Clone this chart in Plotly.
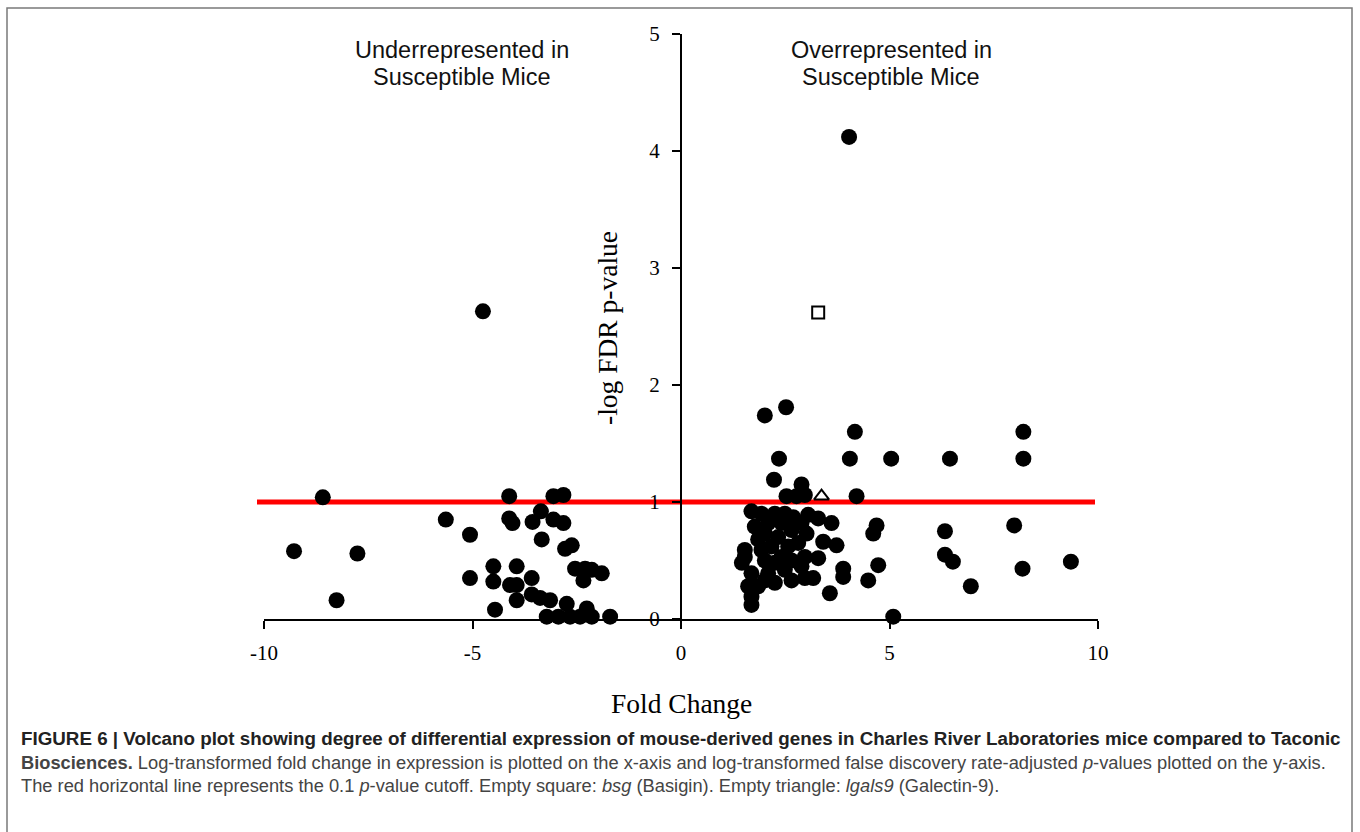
import plotly.graph_objects as go

# ---------------- data ----------------
genes_x = [
    # left (underrepresented)
    -4.75, -8.59, -9.28, -7.76, -8.26, -5.64, -5.06, -5.06, -4.50, -4.50, -4.46,
    -4.12, -4.12, -4.04, -3.56, -3.36, -3.06, -2.82, -3.06, -2.82, -3.34, -2.78, -2.62,
    -3.94, -4.10, -3.94, -3.58, -2.54, -2.30, -2.14, -1.90, -2.34, -3.94, -3.58, -3.38,
    -3.14, -2.74, -2.26, -3.22, -2.94, -2.66, -2.42, -2.14, -1.70,
    # right (overrepresented)
    4.03, 2.01, 2.52, 4.17, 2.35, 4.05, 5.04, 2.23, 2.89, 2.53, 2.77, 2.97, 4.21,
    4.69, 4.61, 4.73, 4.49, 3.89, 3.89, 3.57, 5.09, 3.05, 3.29, 3.61, 3.41, 3.73,
    3.29, 2.97, 3.17, 3.01,
    1.69, 1.93, 2.25, 2.49, 2.69, 1.77, 2.09, 1.53, 1.85, 2.33, 2.65, 2.81, 2.97,
    2.41, 2.01, 1.46, 1.69, 2.09, 2.49, 2.89, 1.85, 2.25, 2.65, 1.69, 1.69,
    2.17, 2.57, 1.93, 2.25, 1.53, 2.65, 2.01, 2.41, 2.89, 1.61, 2.01,
    6.45, 8.21, 8.21, 6.33, 6.33, 6.52, 6.95, 7.99, 8.19, 9.35,
]
genes_y = [
    2.63, 1.04, 0.58, 0.56, 0.16, 0.85, 0.72, 0.35, 0.45, 0.32, 0.08,
    1.05, 0.86, 0.82, 0.83, 0.92, 0.85, 0.82, 1.05, 1.06, 0.68, 0.60, 0.63,
    0.45, 0.29, 0.29, 0.35, 0.43, 0.43, 0.42, 0.39, 0.33, 0.16, 0.21, 0.18,
    0.16, 0.13, 0.09, 0.02, 0.02, 0.02, 0.02, 0.02, 0.02,
    4.12, 1.74, 1.81, 1.60, 1.37, 1.37, 1.37, 1.19, 1.15, 1.05, 1.05, 1.06, 1.05,
    0.80, 0.73, 0.46, 0.33, 0.43, 0.36, 0.22, 0.02, 0.89, 0.86, 0.82, 0.66, 0.63,
    0.52, 0.35, 0.35, 0.73,
    0.92, 0.90, 0.90, 0.90, 0.87, 0.79, 0.82, 0.59, 0.68, 0.70, 0.76, 0.65, 0.53,
    0.53, 0.50, 0.48, 0.39, 0.39, 0.42, 0.45, 0.28, 0.31, 0.33, 0.19, 0.12,
    0.62, 0.62, 0.59, 0.48, 0.53, 0.50, 0.73, 0.82, 0.82, 0.28, 0.33,
    1.37, 1.60, 1.37, 0.75, 0.55, 0.49, 0.28, 0.80, 0.43, 0.49,
]
bsg_x, bsg_y = [3.29], [2.62]        # empty square (Basigin)
lgals9_x, lgals9_y = [3.37], [1.05]  # empty triangle (Galectin-9)
cutoff_y = 1.0                        # -log10(0.1)

x_ticks = [-10, -5, 0, 5, 10]
x_tick_text = ["-10", "-5", "0", "5", "10"]
y_ticks = [0, 1, 2, 3, 4, 5]

# ---------------- layout helpers ----------------
W, H = 1360, 832
L, R, T, B = 264, 1098, 34, 619  # plot area in pixels


def px(xp):
    return (xp - L) / (R - L)


def py(yp):
    return (B - yp) / (B - T)


fig = go.Figure()
fig.add_trace(go.Scatter(
    x=genes_x, y=genes_y, mode="markers",
    marker=dict(symbol="circle", size=16, color="black", line=dict(width=0)),
    cliponaxis=False, showlegend=False, hoverinfo="x+y"))
fig.add_trace(go.Scatter(
    x=bsg_x, y=bsg_y, mode="markers",
    marker=dict(symbol="square-open", size=12, color="black", line=dict(width=2, color="black")),
    cliponaxis=False, showlegend=False, name="bsg"))
fig.add_trace(go.Scatter(
    x=lgals9_x, y=lgals9_y, mode="markers",
    marker=dict(symbol="triangle-up-open", size=13, color="black", line=dict(width=2, color="black")),
    cliponaxis=False, showlegend=False, name="lgals9"))

# red cutoff line
fig.add_shape(type="line", xref="paper", yref="y", x0=px(257), x1=px(1095),
              y0=cutoff_y, y1=cutoff_y, line=dict(color="#ff0000", width=5), layer="below")

# figure frame
fig.add_shape(type="rect", xref="paper", yref="paper", x0=px(7), x1=px(1352),
              y0=py(845), y1=py(8), line=dict(color="#7a7a7a", width=1.5), layer="below")

serif = "Liberation Serif, Times New Roman, serif"
sans = "Liberation Sans, Arial, sans-serif"

fig.update_layout(
    width=W, height=H,
    margin=dict(l=L, r=W - R, t=T, b=H - B, pad=0),
    paper_bgcolor="white", plot_bgcolor="white",
    xaxis=dict(range=[-10, 10], tickvals=x_ticks, ticktext=x_tick_text,
               showline=True, linecolor="black", linewidth=2,
               ticks="outside", ticklen=8, tickwidth=2, tickcolor="black",
               showgrid=False, zeroline=False, ticklabelstandoff=6,
               tickfont=dict(family=serif, size=21, color="black")),
    yaxis=dict(range=[0, 5], tickvals=y_ticks, anchor="free", position=0.5,
               showline=True, linecolor="black", linewidth=2,
               ticks="outside", ticklen=8, tickwidth=2, tickcolor="black",
               showgrid=False, zeroline=False, ticklabelstandoff=8,
               tickfont=dict(family=serif, size=21, color="black")),
)

ann = []
lab_font = dict(family=sans, size=23.5, color="#111")
for txt, xc, yc in [("Underrepresented in", 462, 50), ("Susceptible Mice", 462, 77),
                    ("Overrepresented in", 891, 50), ("Susceptible Mice", 891, 77)]:
    ann.append(dict(text=txt, x=px(xc), y=py(yc), font=lab_font))
ann.append(dict(text="-log FDR p-value", x=px(607), y=py(328), textangle=-90,
                font=dict(family=serif, size=27.5, color="black")))
ann.append(dict(text="Fold Change", x=px(681), y=py(703),
                font=dict(family=serif, size=27.5, color="black")))

cap1 = ("<b>FIGURE 6 | Volcano plot showing degree of differential expression of mouse-derived genes "
        "in Charles River Laboratories mice compared to Taconic</b>")
cap2 = ("<b>Biosciences.</b> Log-transformed fold change in expression is plotted on the x-axis and "
        "log-transformed false discovery rate-adjusted <i>p</i>-values plotted on the y-axis.")
cap3 = ("The red horizontal line represents the 0.1 <i>p</i>-value cutoff. Empty square: <i>bsg</i> "
        "(Basigin). Empty triangle: <i>lgals9</i> (Galectin-9).")
for txt, yp, col, sz in [(cap1, 738, "#222", 18.8), (cap2, 762, "#444", 18.3), (cap3, 786, "#444", 18.3)]:
    ann.append(dict(text=txt, x=px(19), y=py(yp), xanchor="left",
                    font=dict(family=sans, size=sz, color=col)))

for a in ann:
    a.setdefault("xanchor", "center")
    a.setdefault("yanchor", "middle")
    a.update(xref="paper", yref="paper", showarrow=False)
fig.update_layout(annotations=ann)

fig.write_html("out.html", config={"displayModeBar": False},
               post_script="document.body.style.margin='0';")
